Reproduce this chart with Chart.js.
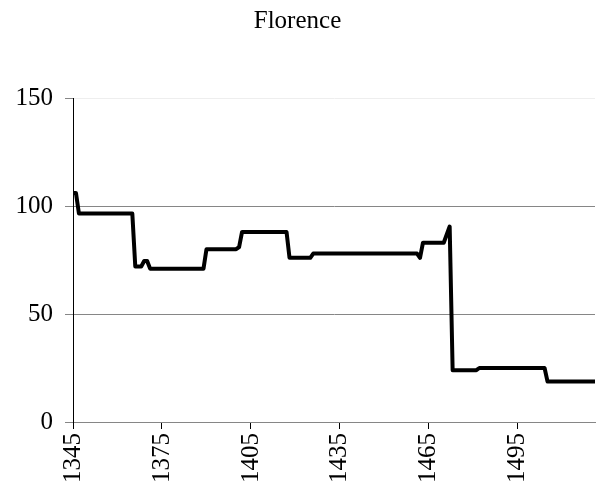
<!DOCTYPE html>
<html>
<head>
<meta charset="utf-8">
<script src="https://cdn.jsdelivr.net/npm/chart.js@4/dist/chart.umd.min.js"></script>
<style>
  html, body { margin: 0; padding: 0; background: #fff; }
</style>
</head>
<body>
<canvas id="grafico" width="606" height="492"></canvas>
<script>
// Datos (años donde cambia la serie)
const anios = [1345, 1346, 1347, 1365, 1366, 1368, 1369, 1370, 1371, 1389, 1390, 1400, 1401, 1402,
               1417, 1418, 1425, 1426, 1461, 1462, 1463, 1470, 1472, 1473, 1481, 1482, 1504, 1505, 1521];
const valores = [106, 106, 96.5, 96.5, 72, 72, 74.5, 74.5, 71, 71, 80, 80, 81, 88,
                 88, 76, 76, 78, 78, 76, 83, 83, 90.5, 24, 24, 25, 25, 18.7, 18.7];
const ticksX = [1345, 1375, 1405, 1435, 1465, 1495];
const ticksY = [0, 50, 100, 150];

Chart.defaults.font.family = "'Liberation Serif', 'Times New Roman', serif";
Chart.defaults.font.size = 25;
Chart.defaults.color = '#000';

const puntos = anios.map((a, i) => ({ x: a, y: valores[i] }));

const ctx = document.getElementById('grafico').getContext('2d');
new Chart(ctx, {
    type: 'line',
    data: {
        datasets: [{
            label: 'Florence',
            data: puntos,
            borderColor: '#000',
            borderWidth: 4,
            borderJoinStyle: 'round',
            pointRadius: 0,
            tension: 0,
            fill: false
        }]
    },
    options: {
        responsive: false,
        devicePixelRatio: 1,
        animation: false,
        layout: { padding: { left: 0, right: 11, top: 0, bottom: 0 } },
        plugins: {
            legend: { display: false },
            tooltip: { enabled: false },
            title: {
                display: true,
                text: 'Florence',
                color: '#000',
                font: { size: 25, weight: 'normal' },
                padding: { top: 6, bottom: 62 }
            }
        },
        scales: {
            x: {
                type: 'linear',
                min: 1345,
                max: 1521,
                afterBuildTicks: scale => { scale.ticks = ticksX.map(v => ({ value: v })) },
                afterFit: scale => { scale.height = 70 },
                ticks: {
                    minRotation: 90,
                    maxRotation: 90,
                    padding: 4,
                    autoSkip: false,
                    callback: v => String(v)
                },
                grid: {
                    drawOnChartArea: false,
                    drawTicks: true,
                    tickLength: 7,
                    tickColor: '#000'
                },
                border: { color: '#868686', width: 1 }
            },
            y: {
                min: 0,
                max: 150,
                afterBuildTicks: scale => { scale.ticks = ticksY.map(v => ({ value: v })) },
                afterFit: scale => { scale.width = 73 },
                ticks: { padding: 12 },
                grid: {
                    color: c => c.tick && c.tick.value === 150 ? '#eeeeee' : '#868686',
                    tickColor: '#868686',
                    tickLength: 8,
                    lineWidth: 1
                },
                border: { color: '#000', width: 1 }
            }
        }
    }
});
</script>
</body>
</html>
